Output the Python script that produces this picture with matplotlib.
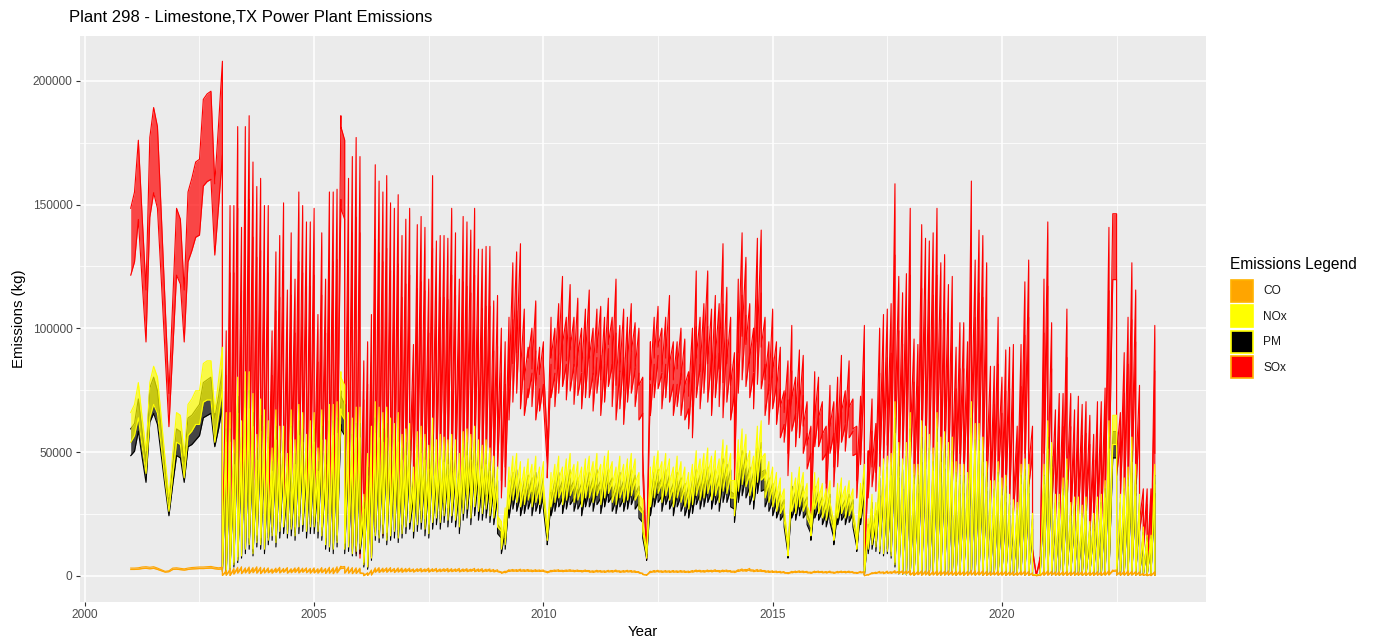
import numpy as np
import matplotlib
matplotlib.use("Agg")
import matplotlib.pyplot as plt
from matplotlib.patches import Rectangle

plt.rcParams['font.family'] = ['Liberation Sans', 'DejaVu Sans']

# 2001-2002: one value per month (thousand kg)
sox_early = [135, 141, 160, 132, 105, 161, 172, 165, 133, 100, 67, 101,
             135, 131, 105, 141, 146, 152, 153, 175, 177, 178, 144, 166]
nox_early = [60, 63, 71, 58, 46, 71, 77, 73, 58, 43, 29, 45,
             60, 59, 44, 63, 65, 68, 68, 78, 79, 79, 60, 72]
pm_early = [54, 56, 65, 53, 42, 69, 73, 68, 54, 40, 27, 41,
            54, 53, 42, 58, 59, 61, 63, 71, 72, 73, 58, 66]
co_early = [2.9, 2.9, 3.0, 3.3, 3.4, 3.2, 3.4, 2.9, 2.3, 1.7, 1.9, 2.9,
            3.0, 2.8, 2.6, 2.9, 3.1, 3.2, 3.3, 3.3, 3.4, 3.5, 3.2, 3.0]

# Jan 2003 - May 2023: two records per month (unit A, unit B), thousand kg
sox_a = [
    189, 90, 136, 136, 165, 128, 165, 169, 152, 143, 146, 136,
    136, 90, 119, 125, 137, 105, 126, 109, 141, 136, 130, 130,
    135, 96, 126, 109, 141, 141, 142, 169, 160, 146, 154, 161,
    154, 79, 86, 96, 151, 145, 141, 147, 137, 135, 140, 125,
    131, 135, 85, 129, 132, 128, 109, 147, 123, 125, 125, 124,
    135, 126, 109, 132, 130, 127, 135, 120, 120, 121, 121, 101,
    103, 91, 86, 95, 115, 119, 122, 98, 84, 91, 101, 84,
    86, 50, 95, 91, 100, 110, 95, 107, 95, 102, 91, 98,
    105, 91, 98, 99, 95, 102, 95, 109, 92, 98, 95, 100,
    93, 91, 73, 8, 86, 95, 99, 91, 95, 103, 86, 86,
    91, 87, 75, 91, 112, 95, 100, 112, 98, 103, 100, 122,
    106, 95, 82, 109, 126, 117, 100, 91, 124, 127, 95, 86,
    98, 86, 84, 68, 79, 92, 73, 83, 81, 64, 55, 75,
    73, 64, 55, 70, 64, 73, 81, 68, 79, 65, 55, 66,
    92, 46, 65, 56, 91, 96, 98, 100, 144, 110, 104, 111,
    135, 87, 85, 129, 124, 123, 126, 135, 115, 118, 107, 110,
    84, 93, 93, 86, 145, 116, 127, 125, 115, 77, 77, 95,
    73, 83, 84, 85, 55, 85, 108, 116, 55, 0.5, 7, 109,
    130, 93, 61, 67, 67, 98, 67, 61, 66, 63, 64, 59,
    52, 64, 64, 69, 128, 133, 133, 60, 82, 95, 115, 105,
    70, 32, 32, 32, 92]
sox_b = [
    3, 2, 10, 15, 22, 18, 25, 30, 20, 32, 26, 28,
    25, 32, 22, 35, 30, 24, 38, 28, 33, 40, 26, 34,
    30, 24, 36, 22, 28, 20, 32, 165, 22, 15, 12, 10,
    8, 5, 4, 8, 20, 25, 18, 28, 22, 32, 26, 30,
    35, 40, 30, 42, 38, 34, 30, 45, 40, 46, 40, 48,
    40, 44, 35, 42, 48, 38, 50, 44, 42, 48, 40, 44,
    48, 35, 40, 70, 78, 82, 75, 72, 80, 76, 70, 74,
    78, 44, 80, 76, 82, 85, 79, 83, 77, 81, 75, 80,
    80, 74, 82, 72, 78, 85, 76, 70, 75, 68, 78, 82,
    76, 70, 45, 7, 72, 80, 84, 75, 80, 78, 72, 76,
    72, 70, 66, 62, 80, 75, 82, 78, 72, 80, 76, 71,
    78, 70, 43, 82, 88, 85, 80, 75, 86, 84, 72, 68,
    75, 68, 62, 60, 45, 65, 58, 62, 55, 48, 24, 58,
    58, 52, 34, 55, 40, 49, 60, 56, 62, 54, 35, 50,
    4, 35, 40, 38, 45, 50, 48, 42, 55, 45, 50, 46,
    50, 38, 40, 55, 48, 52, 45, 58, 42, 50, 46, 40,
    38, 45, 42, 36, 55, 48, 52, 45, 40, 32, 35, 42,
    30, 35, 32, 28, 25, 38, 45, 40, 10, 0.3, 3, 45,
    35, 30, 25, 22, 28, 32, 24, 20, 26, 22, 25, 18,
    20, 24, 22, 28, 40, 133, 45, 35, 30, 35, 42, 36,
    20, 12, 4, 2, 45]
nox_a = [
    84, 60, 60, 50, 73, 57, 75, 75, 67, 52, 65, 61,
    57, 47, 61, 55, 55, 45, 61, 50, 63, 60, 52, 57,
    60, 47, 61, 50, 63, 63, 64, 75, 70, 60, 58, 62,
    62, 30, 45, 55, 64, 62, 60, 62, 58, 56, 60, 52,
    54, 56, 40, 53, 55, 52, 48, 58, 50, 52, 51, 50,
    52, 50, 45, 53, 54, 52, 55, 50, 48, 50, 47, 44,
    40, 20, 25, 40, 44, 45, 42, 40, 43, 41, 44, 40,
    42, 18, 38, 41, 44, 40, 43, 45, 41, 42, 40, 43,
    44, 42, 45, 41, 44, 46, 42, 40, 44, 41, 43, 45,
    43, 38, 28, 9, 40, 44, 46, 42, 45, 43, 40, 44,
    42, 40, 38, 41, 46, 43, 45, 47, 44, 46, 43, 50,
    48, 45, 35, 50, 54, 52, 46, 44, 55, 57, 45, 42,
    40, 38, 36, 32, 12, 38, 36, 40, 38, 34, 22, 38,
    36, 34, 32, 35, 20, 34, 36, 33, 35, 32, 15, 34,
    41, 21, 30, 27, 40, 43, 44, 45, 64, 49, 43, 49,
    60, 41, 41, 57, 55, 52, 47, 60, 51, 53, 49, 51,
    42, 41, 41, 38, 64, 56, 56, 51, 42, 35, 35, 42,
    36, 37, 30, 28, 27, 41, 43, 41, 23, 0.5, 0.5, 41,
    57, 49, 30, 30, 36, 43, 27, 29, 29, 26, 29, 20,
    23, 29, 30, 35, 57, 59, 59, 30, 36, 40, 51, 41,
    30, 18, 15, 15, 41]
nox_b = [
    2, 1, 3, 5, 7, 9, 12, 14, 10, 15, 14, 12,
    16, 18, 15, 20, 22, 19, 21, 18, 22, 23, 20, 22,
    22, 20, 18, 14, 13, 12, 15, 73, 12, 13, 10, 11,
    12, 5, 4, 8, 18, 17, 19, 16, 18, 20, 17, 19,
    22, 24, 20, 23, 24, 21, 19, 24, 26, 24, 27, 25,
    27, 25, 22, 28, 30, 26, 31, 29, 28, 30, 27, 26,
    22, 12, 14, 30, 34, 33, 31, 32, 34, 31, 33, 32,
    34, 16, 31, 33, 35, 32, 34, 36, 33, 34, 31, 35,
    35, 33, 36, 32, 35, 37, 33, 32, 35, 33, 34, 36,
    34, 30, 20, 8, 31, 35, 37, 33, 36, 34, 31, 35,
    33, 31, 30, 32, 36, 34, 35, 37, 34, 36, 33, 38,
    37, 35, 27, 38, 41, 40, 36, 34, 42, 43, 35, 33,
    31, 29, 28, 25, 9, 29, 28, 31, 29, 26, 18, 30,
    28, 26, 25, 27, 16, 26, 28, 26, 27, 25, 12, 26,
    0.5, 12, 14, 13, 11, 10, 11, 9, 5, 1, 0.8, 0.6,
    0.8, 0.4, 1.2, 0.6, 0.9, 0.5, 1.1, 0.7, 0.4, 0.9, 0.6, 1.0,
    0.5, 0.8, 0.4, 0.7, 1.0, 0.6, 0.9, 0.5, 0.7, 0.4, 0.8, 0.6,
    0.7, 0.5, 0.9, 0.4, 0.6, 0.8, 0.5, 0.7, 0.3, 0.2, 0.2, 0.6,
    0.8, 0.5, 0.7, 0.4, 0.6, 0.9, 0.5, 0.7, 0.4, 0.6, 0.5, 0.7,
    0.5, 0.6, 0.4, 0.7, 0.8, 59, 0.6, 0.5, 0.7, 0.4, 0.6, 0.5,
    0.4, 0.5, 0.3, 0.3, 0.5]
pm_a = [
    76, 54, 54, 45, 66, 51, 68, 68, 60, 47, 59, 55,
    51, 42, 55, 50, 50, 41, 55, 45, 57, 54, 47, 51,
    54, 42, 55, 45, 57, 57, 58, 68, 63, 54, 52, 56,
    56, 27, 40, 50, 58, 56, 54, 56, 52, 50, 54, 47,
    49, 50, 36, 48, 50, 47, 43, 52, 45, 47, 46, 45,
    47, 45, 40, 48, 49, 47, 50, 45, 43, 45, 42, 40,
    35, 17, 21, 35, 38, 39, 36, 35, 37, 36, 38, 35,
    36, 15, 33, 35, 38, 35, 37, 39, 35, 36, 34, 37,
    38, 36, 39, 35, 38, 39, 36, 34, 38, 35, 37, 39,
    37, 33, 24, 8, 34, 38, 39, 36, 39, 37, 34, 38,
    36, 34, 33, 35, 39, 37, 39, 40, 38, 39, 37, 43,
    41, 39, 30, 43, 46, 45, 40, 38, 47, 49, 39, 36,
    34, 33, 31, 28, 10, 33, 31, 34, 33, 29, 19, 33,
    31, 29, 28, 30, 17, 29, 31, 28, 30, 28, 13, 29,
    37, 19, 27, 24, 36, 39, 40, 40, 58, 44, 39, 44,
    54, 37, 37, 51, 50, 47, 42, 54, 46, 48, 44, 46,
    38, 37, 37, 34, 58, 50, 50, 46, 38, 32, 32, 38,
    32, 33, 27, 25, 24, 37, 39, 37, 21, 0.4, 0.4, 37,
    51, 44, 27, 27, 32, 39, 24, 26, 26, 23, 26, 18,
    21, 26, 27, 32, 51, 53, 53, 27, 32, 36, 46, 37,
    27, 16, 14, 14, 37]
pm_b = [
    2, 1, 3, 4, 6, 8, 10, 12, 9, 13, 12, 10,
    14, 16, 13, 17, 19, 17, 18, 16, 19, 20, 17, 19,
    19, 17, 16, 12, 11, 10, 13, 66, 10, 11, 9, 9,
    10, 4, 3, 7, 16, 15, 17, 14, 16, 17, 15, 17,
    19, 21, 17, 20, 21, 18, 17, 21, 23, 21, 24, 22,
    24, 22, 19, 25, 26, 23, 27, 25, 25, 26, 24, 23,
    19, 10, 12, 26, 30, 29, 27, 28, 30, 27, 29, 28,
    30, 14, 27, 29, 31, 28, 30, 32, 29, 30, 27, 31,
    31, 29, 32, 28, 31, 33, 29, 28, 31, 29, 30, 32,
    30, 26, 17, 7, 27, 31, 33, 29, 32, 30, 27, 31,
    29, 27, 26, 28, 32, 30, 31, 33, 30, 32, 29, 33,
    33, 31, 24, 33, 36, 35, 32, 30, 37, 38, 31, 29,
    27, 26, 25, 22, 8, 26, 25, 27, 26, 23, 16, 26,
    25, 23, 22, 24, 14, 23, 25, 23, 24, 22, 11, 23,
    0.4, 10, 12, 11, 10, 9, 10, 8, 4, 0.9, 0.7, 0.5,
    0.7, 0.4, 1.0, 0.5, 0.8, 0.4, 1.0, 0.6, 0.4, 0.8, 0.5, 0.9,
    0.4, 0.7, 0.4, 0.6, 0.9, 0.5, 0.8, 0.4, 0.6, 0.4, 0.7, 0.5,
    0.6, 0.4, 0.8, 0.4, 0.5, 0.7, 0.4, 0.6, 0.3, 0.2, 0.2, 0.5,
    0.7, 0.4, 0.6, 0.4, 0.5, 0.8, 0.4, 0.6, 0.4, 0.5, 0.4, 0.6,
    0.4, 0.5, 0.4, 0.6, 0.7, 53, 0.5, 0.4, 0.6, 0.4, 0.5, 0.4,
    0.4, 0.4, 0.3, 0.3, 0.4]
co_a = [
    3.2, 2.0, 2.5, 2.8, 3.2, 3.4, 3.0, 3.3, 3.1, 3.4, 3.2, 3.0,
    3.0, 2.6, 2.9, 3.2, 2.8, 3.1, 2.7, 3.0, 3.2, 2.9, 3.0, 2.8,
    3.0, 2.7, 3.1, 2.8, 3.2, 3.0, 3.4, 3.6, 3.5, 3.3, 3.1, 3.0,
    2.9, 1.0, 1.2, 2.2, 3.0, 3.1, 2.9, 3.0, 3.1, 2.8, 3.0, 2.9,
    2.8, 2.9, 2.6, 2.7, 2.8, 2.6, 2.9, 2.7, 2.8, 2.6, 2.7, 2.8,
    2.7, 2.6, 2.8, 2.6, 2.7, 2.5, 2.8, 2.6, 2.7, 2.5, 2.6, 2.4,
    2.3, 1.5, 1.8, 2.3, 2.4, 2.3, 2.5, 2.3, 2.4, 2.2, 2.3, 2.2,
    2.2, 1.6, 2.1, 2.2, 2.3, 2.1, 2.2, 2.3, 2.1, 2.2, 2.0, 2.2,
    2.0, 1.9, 2.1, 2.0, 1.9, 2.1, 2.0, 2.2, 1.9, 2.0, 2.1, 2.0,
    1.9, 1.6, 1.0, 0.4, 1.8, 2.0, 2.1, 1.9, 2.0, 1.9, 2.0, 1.9,
    2.0, 1.9, 1.8, 2.0, 2.2, 2.1, 2.0, 2.2, 2.1, 2.3, 2.0, 2.2,
    2.2, 2.0, 1.8, 2.3, 2.6, 2.4, 2.8, 2.2, 2.4, 2.3, 2.0, 1.9,
    1.9, 1.8, 1.7, 1.6, 1.2, 1.7, 1.8, 1.9, 1.8, 1.7, 1.4, 1.8,
    1.8, 1.7, 1.6, 1.8, 1.4, 1.7, 1.8, 1.7, 1.8, 1.6, 1.3, 1.7,
    1.6, 0.6, 1.2, 1.4, 1.7, 1.5, 1.8, 1.6, 2.0, 1.7, 1.9, 1.8,
    2.0, 1.6, 1.7, 1.9, 1.8, 2.0, 1.7, 1.9, 1.8, 1.7, 1.9, 1.8,
    1.7, 1.8, 1.6, 1.7, 2.1, 1.9, 1.8, 1.9, 1.7, 1.6, 1.6, 1.8,
    1.6, 1.7, 1.5, 1.6, 1.4, 1.7, 1.8, 1.7, 1.2, 0.2, 0.3, 1.7,
    1.9, 1.7, 1.5, 1.6, 1.6, 1.7, 1.5, 1.6, 1.5, 1.6, 1.5, 1.4,
    1.5, 1.6, 1.5, 1.6, 2.0, 2.2, 2.2, 1.6, 1.7, 1.9, 1.7, 1.6,
    1.5, 1.0, 0.8, 0.8, 1.6]
co_b = [
    0.2, 0.3, 0.2, 0.8, 1.2, 1.0, 1.3, 1.1, 1.4, 1.2, 1.0, 1.3,
    1.4, 1.2, 1.5, 1.3, 1.6, 1.2, 1.4, 1.5, 1.3, 1.6, 1.4, 1.2,
    1.3, 1.2, 1.4, 1.1, 1.2, 1.0, 1.3, 3.3, 1.2, 1.2, 1.0, 1.1,
    1.2, 0.1, 0.2, 0.4, 1.6, 1.5, 1.7, 1.6, 1.8, 1.5, 1.7, 1.6,
    1.8, 1.9, 1.7, 2.0, 1.8, 1.9, 1.7, 2.0, 1.8, 1.9, 2.0, 1.8,
    1.9, 2.0, 1.8, 2.0, 1.9, 2.1, 1.9, 2.0, 1.8, 2.0, 1.9, 1.8,
    1.9, 1.2, 1.4, 2.0, 2.1, 2.0, 2.1, 2.0, 2.1, 1.9, 2.0, 2.0,
    2.0, 1.4, 1.9, 2.0, 2.0, 1.9, 2.0, 2.1, 1.9, 2.0, 1.8, 2.0,
    1.7, 1.6, 1.8, 1.7, 1.6, 1.8, 1.7, 1.9, 1.6, 1.7, 1.8, 1.7,
    1.6, 1.3, 0.6, 0.3, 1.5, 1.7, 1.8, 1.6, 1.7, 1.6, 1.7, 1.6,
    1.7, 1.6, 1.5, 1.7, 1.9, 1.8, 1.7, 1.9, 1.8, 2.0, 1.7, 1.9,
    1.9, 1.7, 1.5, 2.0, 2.2, 2.1, 2.3, 1.9, 2.0, 2.0, 1.7, 1.6,
    1.6, 1.5, 1.4, 1.3, 1.0, 1.4, 1.5, 1.6, 1.5, 1.4, 1.2, 1.5,
    1.5, 1.4, 1.3, 1.5, 1.2, 1.4, 1.5, 1.4, 1.5, 1.3, 1.1, 1.4,
    0.1, 0.4, 1.0, 1.1, 1.3, 1.0, 1.2, 1.1, 1.3, 1.2, 1.0, 1.1,
    0.4, 0.3, 0.5, 0.3, 0.4, 0.2, 0.4, 0.3, 0.5, 0.3, 0.4, 0.3,
    0.3, 0.4, 0.3, 0.2, 0.4, 0.3, 0.4, 0.3, 0.2, 0.3, 0.4, 0.3,
    0.3, 0.2, 0.3, 0.2, 0.3, 0.4, 0.3, 0.2, 0.2, 0.1, 0.1, 0.3,
    0.3, 0.4, 0.2, 0.3, 0.3, 0.2, 0.3, 0.2, 0.3, 0.2, 0.3, 0.2,
    0.2, 0.3, 0.2, 0.3, 0.4, 2.0, 0.4, 0.3, 0.3, 0.3, 0.4, 0.3,
    0.2, 0.2, 0.1, 0.1, 0.2]

labels = ['CO', 'NOx', 'PM', 'SOx']
fills = {'CO': 'orange', 'NOx': 'yellow', 'PM': 'black', 'SOx': 'red'}
key_edges = {'CO': '#FFB300', 'NOx': 'yellow', 'PM': 'yellow', 'SOx': '#FFB000'}

# time axis: monthly before 2003, then two records per month sharing the date
early_x = 2001 + np.arange(len(sox_early)) / 12
months = 2003 + np.arange(len(sox_a)) / 12
x = np.concatenate([early_x, np.repeat(months, 2)])


def series(early, a, b):
    dense = np.column_stack([a, b]).ravel()
    return np.concatenate([early, dense]) * 1000


data = {
    'SOx': series(sox_early, sox_a, sox_b),
    'PM': series(pm_early, pm_a, pm_b),
    'NOx': series(nox_early, nox_a, nox_b),
    'CO': series(co_early, co_a, co_b),
}

W, H = 1377, 641
fig = plt.figure(figsize=(W / 100, H / 100), dpi=100)
ax = fig.add_axes([79.5 / W, 1 - 601.7 / H, 1126.5 / W, 566.2 / H])
ax.set_facecolor('#EBEBEB')

# ribbon: +/-10 % band around each value, outlined in the same colour
for name in ['SOx', 'PM', 'NOx', 'CO']:
    v = data[name]
    lo, hi = v * 0.9, v * 1.1
    ax.fill_between(x, lo, hi, color=fills[name], alpha=0.7, linewidth=0, zorder=2)
    ax.plot(x, lo, color=fills[name], lw=0.8, zorder=2)
    ax.plot(x, hi, color=fills[name], lw=0.8, zorder=2)

# ggplot-like 5 % expansion
xmin, xmax = x.min(), x.max()
ymax = max(d.max() for d in data.values()) * 1.1
ax.set_xlim(xmin - 0.05 * (xmax - xmin), xmax + 0.05 * (xmax - xmin))
ax.set_ylim(-0.05 * ymax, ymax * 1.05)

ax.set_xticks([2000, 2005, 2010, 2015, 2020])
ax.set_xticks([2002.5, 2007.5, 2012.5, 2017.5, 2022.5], minor=True)
ax.set_yticks([0, 50000, 100000, 150000, 200000])
ax.set_yticks([25000, 75000, 125000, 175000], minor=True)
ax.set_yticklabels(['0', '50000', '100000', '150000', '200000'])
ax.grid(which='major', color='white', lw=1.1, zorder=0)
ax.grid(which='minor', color='white', lw=0.55, zorder=0)
ax.set_axisbelow(True)
for s in ax.spines.values():
    s.set_visible(False)
ax.tick_params(which='major', length=3, width=0.8, color='#333333',
               labelcolor='#4D4D4D', labelsize=8.6, pad=2)
ax.tick_params(which='minor', length=0)

ax.set_xlabel('Year', fontsize=10.8, labelpad=3)
ax.set_ylabel('Emissions (kg)', fontsize=10.8, labelpad=5)
fig.text(69 / W, 1 - 17 / H, 'Plant 298 - Limestone,TX Power Plant Emissions',
         fontsize=12, va='center', ha='left')

# legend drawn as keys + labels to the right of the panel
fig.text(1230 / W, 1 - 265 / H, 'Emissions Legend', fontsize=11.2,
         va='center', ha='left')
for i, name in enumerate(labels):
    top = 280 + i * 25.4
    fig.add_artist(Rectangle((1231 / W, 1 - (top + 22) / H), 22 / W, 22 / H,
                             transform=fig.transFigure, facecolor=fills[name],
                             edgecolor=key_edges[name], linewidth=1.2))
    fig.text(1263 / W, 1 - (top + 11.5) / H, name, fontsize=8.6,
             va='center', ha='left', color='#1A1A1A')

fig.savefig('out.png', dpi=100)
